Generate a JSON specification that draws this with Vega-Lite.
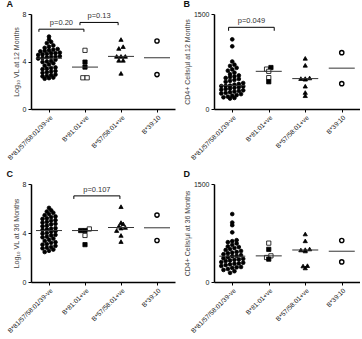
{
  "$schema": "https://vega.github.io/schema/vega-lite/v6.json",
  "padding": {"left": 6, "top": 0, "right": 0, "bottom": 0},
  "background": "white",
  "config": {
    "view": {"stroke": null},
    "font": "Liberation Sans",
    "concat": {"spacing": 8},
    "axis": {
      "grid": false,
      "domainColor": "#000",
      "domainWidth": 1.5,
      "tickColor": "#000",
      "tickWidth": 1,
      "tickSize": 3,
      "labelFont": "Liberation Sans",
      "labelFontSize": 7,
      "labelColor": "#222",
      "labelPadding": 2,
      "titleFont": "Liberation Sans",
      "titleFontSize": 7,
      "titleFontWeight": "normal",
      "titleColor": "#444",
      "titlePadding": 3
    },
    "axisX": {"values": [0, 1, 2, 3], "labelAngle": -45, "labelFontSize": 6.6, "labelOverlap": false, "labelBound": false,
              "labelExpr": "['B*81/57/58:01/39-ve','B*81:01+ve','B*57/58:01+ve','B*39:10'][datum.value]"},
    "title": {"font": "Liberation Sans", "fontSize": 9, "fontWeight": "bold", "anchor": "start", "frame": "bounds", "offset": 1, "color": "#111"}
  },
  "datasets": {
    "pts": [
      {"p":"A","g":0,"v":2.55},{"p":"A","g":0,"v":2.6},{"p":"A","g":0,"v":2.65},
      {"p":"A","g":0,"v":2.75},{"p":"A","g":0,"v":2.8},{"p":"A","g":0,"v":2.85},{"p":"A","g":0,"v":2.9},
      {"p":"A","g":0,"v":3.05},{"p":"A","g":0,"v":3.1},{"p":"A","g":0,"v":3.15},{"p":"A","g":0,"v":3.2},
      {"p":"A","g":0,"v":3.35},{"p":"A","g":0,"v":3.4},{"p":"A","g":0,"v":3.45},{"p":"A","g":0,"v":3.5},
      {"p":"A","g":0,"v":3.65},{"p":"A","g":0,"v":3.75},{"p":"A","g":0,"v":3.85},
      {"p":"A","g":0,"v":3.95},{"p":"A","g":0,"v":4.0},{"p":"A","g":0,"v":4.05},{"p":"A","g":0,"v":4.15},
      {"p":"A","g":0,"v":4.25},{"p":"A","g":0,"v":4.3},{"p":"A","g":0,"v":4.35},{"p":"A","g":0,"v":4.4},{"p":"A","g":0,"v":4.4},{"p":"A","g":0,"v":4.45},
      {"p":"A","g":0,"v":4.55},{"p":"A","g":0,"v":4.6},{"p":"A","g":0,"v":4.65},{"p":"A","g":0,"v":4.7},{"p":"A","g":0,"v":4.7},{"p":"A","g":0,"v":4.75},
      {"p":"A","g":0,"v":4.85},{"p":"A","g":0,"v":4.9},{"p":"A","g":0,"v":4.95},{"p":"A","g":0,"v":5.0},{"p":"A","g":0,"v":5.05},
      {"p":"A","g":0,"v":5.15},{"p":"A","g":0,"v":5.25},{"p":"A","g":0,"v":5.35},
      {"p":"A","g":0,"v":5.55},{"p":"A","g":0,"v":5.65},
      {"p":"A","g":0,"v":5.85},
      {"p":"A","g":0,"v":6.1},
      {"p":"A","g":1,"v":4.94,"s":"o"},{"p":"A","g":1,"v":3.95,"s":"f"},{"p":"A","g":1,"v":3.53,"s":"f"},{"p":"A","g":1,"v":2.63,"s":"o"},{"p":"A","g":1,"v":2.63,"s":"o"},
      {"p":"A","g":2,"v":5.85},{"p":"A","g":2,"v":5.25},{"p":"A","g":2,"v":5.1},{"p":"A","g":2,"v":4.43},{"p":"A","g":2,"v":4.43},{"p":"A","g":2,"v":4.43},{"p":"A","g":2,"v":4.1},{"p":"A","g":2,"v":4.1},{"p":"A","g":2,"v":3.0},
      {"p":"A","g":3,"v":5.73},{"p":"A","g":3,"v":2.9},

      {"p":"B","g":0,"v":165},{"p":"B","g":0,"v":175},
      {"p":"B","g":0,"v":185},{"p":"B","g":0,"v":195},{"p":"B","g":0,"v":210},{"p":"B","g":0,"v":220},{"p":"B","g":0,"v":235},
      {"p":"B","g":0,"v":245},{"p":"B","g":0,"v":255},{"p":"B","g":0,"v":265},{"p":"B","g":0,"v":275},{"p":"B","g":0,"v":285},{"p":"B","g":0,"v":295},
      {"p":"B","g":0,"v":305},{"p":"B","g":0,"v":315},{"p":"B","g":0,"v":325},{"p":"B","g":0,"v":335},{"p":"B","g":0,"v":345},{"p":"B","g":0,"v":355},
      {"p":"B","g":0,"v":362},{"p":"B","g":0,"v":365},{"p":"B","g":0,"v":370},{"p":"B","g":0,"v":385},{"p":"B","g":0,"v":395},{"p":"B","g":0,"v":410},
      {"p":"B","g":0,"v":430},{"p":"B","g":0,"v":445},{"p":"B","g":0,"v":460},{"p":"B","g":0,"v":475},
      {"p":"B","g":0,"v":490},{"p":"B","g":0,"v":505},{"p":"B","g":0,"v":515},{"p":"B","g":0,"v":530},
      {"p":"B","g":0,"v":550},{"p":"B","g":0,"v":575},
      {"p":"B","g":0,"v":605},{"p":"B","g":0,"v":625},{"p":"B","g":0,"v":650},
      {"p":"B","g":0,"v":680},{"p":"B","g":0,"v":700},
      {"p":"B","g":0,"v":750},
      {"p":"B","g":0,"v":990},
      {"p":"B","g":0,"v":1100},
      {"p":"B","g":1,"v":630,"s":"o"},{"p":"B","g":1,"v":655,"s":"f"},{"p":"B","g":1,"v":595,"s":"o"},{"p":"B","g":1,"v":495,"s":"o"},{"p":"B","g":1,"v":430,"s":"f"},
      {"p":"B","g":2,"v":800},{"p":"B","g":2,"v":690},{"p":"B","g":2,"v":490},{"p":"B","g":2,"v":480},{"p":"B","g":2,"v":480},{"p":"B","g":2,"v":470},{"p":"B","g":2,"v":360},{"p":"B","g":2,"v":260},{"p":"B","g":2,"v":210},
      {"p":"B","g":3,"v":890},{"p":"B","g":3,"v":400},

      {"p":"C","g":0,"v":2.45},{"p":"C","g":0,"v":2.55},{"p":"C","g":0,"v":2.65},
      {"p":"C","g":0,"v":2.75},{"p":"C","g":0,"v":2.8},{"p":"C","g":0,"v":2.85},{"p":"C","g":0,"v":2.95},
      {"p":"C","g":0,"v":3.05},{"p":"C","g":0,"v":3.1},{"p":"C","g":0,"v":3.2},{"p":"C","g":0,"v":3.25},
      {"p":"C","g":0,"v":3.35},{"p":"C","g":0,"v":3.45},{"p":"C","g":0,"v":3.55},
      {"p":"C","g":0,"v":3.65},{"p":"C","g":0,"v":3.7},{"p":"C","g":0,"v":3.8},{"p":"C","g":0,"v":3.85},
      {"p":"C","g":0,"v":3.95},{"p":"C","g":0,"v":4.0},{"p":"C","g":0,"v":4.1},{"p":"C","g":0,"v":4.15},
      {"p":"C","g":0,"v":4.25},{"p":"C","g":0,"v":4.3},{"p":"C","g":0,"v":4.35},{"p":"C","g":0,"v":4.4},
      {"p":"C","g":0,"v":4.55},{"p":"C","g":0,"v":4.6},{"p":"C","g":0,"v":4.7},{"p":"C","g":0,"v":4.75},
      {"p":"C","g":0,"v":4.85},{"p":"C","g":0,"v":4.9},{"p":"C","g":0,"v":5.0},{"p":"C","g":0,"v":5.05},
      {"p":"C","g":0,"v":5.15},{"p":"C","g":0,"v":5.2},{"p":"C","g":0,"v":5.3},{"p":"C","g":0,"v":5.35},
      {"p":"C","g":0,"v":5.45},{"p":"C","g":0,"v":5.55},{"p":"C","g":0,"v":5.65},
      {"p":"C","g":0,"v":5.75},{"p":"C","g":0,"v":5.85},
      {"p":"C","g":0,"v":6.05},
      {"p":"C","g":1,"v":4.2,"s":"f"},{"p":"C","g":1,"v":4.33,"s":"o"},{"p":"C","g":1,"v":4.2,"s":"f"},{"p":"C","g":1,"v":3.8,"s":"o"},{"p":"C","g":1,"v":3.05,"s":"f"},
      {"p":"C","g":2,"v":6.15},{"p":"C","g":2,"v":4.85},{"p":"C","g":2,"v":4.75},{"p":"C","g":2,"v":4.55},{"p":"C","g":2,"v":4.45},{"p":"C","g":2,"v":4.4},{"p":"C","g":2,"v":4.2},{"p":"C","g":2,"v":3.8},{"p":"C","g":2,"v":3.3},
      {"p":"C","g":3,"v":5.46},{"p":"C","g":3,"v":3.39},

      {"p":"D","g":0,"v":140},{"p":"D","g":0,"v":165},
      {"p":"D","g":0,"v":185},{"p":"D","g":0,"v":200},{"p":"D","g":0,"v":215},{"p":"D","g":0,"v":225},{"p":"D","g":0,"v":230},
      {"p":"D","g":0,"v":245},{"p":"D","g":0,"v":260},{"p":"D","g":0,"v":270},{"p":"D","g":0,"v":280},{"p":"D","g":0,"v":285},{"p":"D","g":0,"v":295},
      {"p":"D","g":0,"v":305},{"p":"D","g":0,"v":320},{"p":"D","g":0,"v":330},{"p":"D","g":0,"v":340},{"p":"D","g":0,"v":345},{"p":"D","g":0,"v":355},
      {"p":"D","g":0,"v":365},{"p":"D","g":0,"v":380},{"p":"D","g":0,"v":395},{"p":"D","g":0,"v":400},{"p":"D","g":0,"v":410},
      {"p":"D","g":0,"v":425},{"p":"D","g":0,"v":440},{"p":"D","g":0,"v":450},{"p":"D","g":0,"v":460},{"p":"D","g":0,"v":475},
      {"p":"D","g":0,"v":490},{"p":"D","g":0,"v":505},{"p":"D","g":0,"v":520},{"p":"D","g":0,"v":535},
      {"p":"D","g":0,"v":545},{"p":"D","g":0,"v":570},{"p":"D","g":0,"v":590},
      {"p":"D","g":0,"v":610},{"p":"D","g":0,"v":625},{"p":"D","g":0,"v":640},
      {"p":"D","g":0,"v":760},
      {"p":"D","g":0,"v":870},
      {"p":"D","g":0,"v":910},
      {"p":"D","g":0,"v":1040},
      {"p":"D","g":1,"v":595,"s":"o"},{"p":"D","g":1,"v":500,"s":"f"},{"p":"D","g":1,"v":400,"s":"o"},{"p":"D","g":1,"v":375,"s":"o"},{"p":"D","g":1,"v":350,"s":"f"},
      {"p":"D","g":2,"v":735},{"p":"D","g":2,"v":630},{"p":"D","g":2,"v":505},{"p":"D","g":2,"v":495},{"p":"D","g":2,"v":490},{"p":"D","g":2,"v":475},{"p":"D","g":2,"v":250},{"p":"D","g":2,"v":245},{"p":"D","g":2,"v":215},
      {"p":"D","g":3,"v":635},{"p":"D","g":3,"v":307}
    ],
    "brackets": [
      {"p":"A","from":-0.28,"to":0.97,"y":6.72,"drop":6.5,"label":"p=0.20"},
      {"p":"A","from":0.86,"to":1.92,"y":7.29,"drop":7.06,"label":"p=0.13"},
      {"p":"B","from":-0.1,"to":1.15,"y":1290,"drop":1235,"label":"p=0.049"},
      {"p":"C","from":0.69,"to":1.97,"y":7.03,"drop":6.78,"label":"p=0.107"}
    ]
  },
  "vconcat": [
    {
      "hconcat": [
        {
          "title": "A",
          "width": 144, "height": 95,
          "layer": [
            {
              "data": {"name": "pts"},
              "transform": [
                {"filter": "datum.p == 'A'"},
                {"calculate": "floor(datum.v / 0.3)", "as": "bin"},
                {"window": [{"op": "row_number", "as": "rk"}, {"op": "count", "as": "n"}], "groupby": ["g", "bin"], "sort": [{"field": "v"}], "frame": [null, null]},
                {"calculate": "datum.g + (datum.rk - (datum.n + 1) / 2) * 0.12", "as": "xpos"}
              ],
              "mark": {"type": "point", "opacity": 1, "stroke": "#000"},
              "encoding": {
                "x": {"field": "xpos", "type": "quantitative", "title": null, "scale": {"domain": [-0.5, 3.5], "nice": false, "zero": false}},
                "y": {"field": "v", "type": "quantitative", "title": "Log₁₀ VL at 12 Months", "scale": {"domain": [0, 8], "nice": false}, "axis": {"values": [0, 2, 4, 6, 8]}},
                "shape": {"field": "g", "type": "nominal", "scale": {"domain": [0, 1, 2, 3], "range": ["circle", "square", "triangle-up", "circle"]}, "legend": null},
                "fill": {"condition": {"test": "datum.g == 3 || datum.s == 'o'", "value": "#fff"}, "value": "#000"},
                "strokeWidth": {"condition": {"test": "datum.g == 3", "value": 1.4}, "value": 0.8},
                "size": {"condition": {"test": "datum.g == 0", "value": 14}, "value": 18}
              }
            },
            {
              "data": {"name": "pts"},
              "transform": [{"filter": "datum.p == 'A'"}],
              "mark": {"type": "tick", "orient": "horizontal", "size": 26, "thickness": 1, "color": "#333"},
              "encoding": {
                "x": {"field": "g", "type": "quantitative", "title": null},
                "y": {"aggregate": "median", "field": "v", "type": "quantitative", "title": "Log₁₀ VL at 12 Months"}
              }
            },
            {
              "data": {"name": "brackets"},
              "transform": [{"filter": "datum.p == 'A'"}],
              "mark": {"type": "rule", "color": "#000", "strokeWidth": 1},
              "encoding": {"x": {"field": "from", "type": "quantitative", "title": null}, "x2": {"field": "to"}, "y": {"field": "y", "type": "quantitative", "title": "Log₁₀ VL at 12 Months"}}
            },
            {
              "data": {"name": "brackets"},
              "transform": [{"filter": "datum.p == 'A'"}],
              "mark": {"type": "rule", "color": "#000", "strokeWidth": 1},
              "encoding": {"x": {"field": "from", "type": "quantitative", "title": null}, "y": {"field": "y", "type": "quantitative", "title": "Log₁₀ VL at 12 Months"}, "y2": {"field": "drop"}}
            },
            {
              "data": {"name": "brackets"},
              "transform": [{"filter": "datum.p == 'A'"}],
              "mark": {"type": "rule", "color": "#000", "strokeWidth": 1},
              "encoding": {"x": {"field": "to", "type": "quantitative", "title": null}, "y": {"field": "y", "type": "quantitative", "title": "Log₁₀ VL at 12 Months"}, "y2": {"field": "drop"}}
            },
            {
              "data": {"name": "brackets"},
              "transform": [{"filter": "datum.p == 'A'"}, {"calculate": "(datum.from + datum.to) / 2", "as": "mid"}],
              "mark": {"type": "text", "fontSize": 7.5, "color": "#333", "baseline": "bottom", "dy": -2},
              "encoding": {"x": {"field": "mid", "type": "quantitative", "title": null}, "y": {"field": "y", "type": "quantitative", "title": "Log₁₀ VL at 12 Months"}, "text": {"field": "label"}}
            }
          ]
        },
        {
          "title": "B",
          "width": 146, "height": 95,
          "layer": [
            {
              "data": {"name": "pts"},
              "transform": [
                {"filter": "datum.p == 'B'"},
                {"calculate": "floor(datum.v / 60)", "as": "bin"},
                {"window": [{"op": "row_number", "as": "rk"}, {"op": "count", "as": "n"}], "groupby": ["g", "bin"], "sort": [{"field": "v"}], "frame": [null, null]},
                {"calculate": "datum.g + (datum.rk - (datum.n + 1) / 2) * 0.12", "as": "xpos"}
              ],
              "mark": {"type": "point", "opacity": 1, "stroke": "#000"},
              "encoding": {
                "x": {"field": "xpos", "type": "quantitative", "title": null, "scale": {"domain": [-0.5, 3.5], "nice": false, "zero": false}},
                "y": {"field": "v", "type": "quantitative", "title": "CD4+ Cells/µl at 12 Months", "scale": {"domain": [0, 1500], "nice": false}, "axis": {"values": [0, 500, 1000, 1500], "format": "d"}},
                "shape": {"field": "g", "type": "nominal", "scale": {"domain": [0, 1, 2, 3], "range": ["circle", "square", "triangle-up", "circle"]}, "legend": null},
                "fill": {"condition": {"test": "datum.g == 3 || datum.s == 'o'", "value": "#fff"}, "value": "#000"},
                "strokeWidth": {"condition": {"test": "datum.g == 3", "value": 1.4}, "value": 0.8},
                "size": {"condition": {"test": "datum.g == 0", "value": 14}, "value": 18}
              }
            },
            {
              "data": {"name": "pts"},
              "transform": [{"filter": "datum.p == 'B'"}],
              "mark": {"type": "tick", "orient": "horizontal", "size": 26, "thickness": 1, "color": "#333"},
              "encoding": {
                "x": {"field": "g", "type": "quantitative", "title": null},
                "y": {"aggregate": "median", "field": "v", "type": "quantitative", "title": "CD4+ Cells/µl at 12 Months"}
              }
            },
            {
              "data": {"name": "brackets"},
              "transform": [{"filter": "datum.p == 'B'"}],
              "mark": {"type": "rule", "color": "#000", "strokeWidth": 1},
              "encoding": {"x": {"field": "from", "type": "quantitative", "title": null}, "x2": {"field": "to"}, "y": {"field": "y", "type": "quantitative", "title": "CD4+ Cells/µl at 12 Months"}}
            },
            {
              "data": {"name": "brackets"},
              "transform": [{"filter": "datum.p == 'B'"}],
              "mark": {"type": "rule", "color": "#000", "strokeWidth": 1},
              "encoding": {"x": {"field": "from", "type": "quantitative", "title": null}, "y": {"field": "y", "type": "quantitative", "title": "CD4+ Cells/µl at 12 Months"}, "y2": {"field": "drop"}}
            },
            {
              "data": {"name": "brackets"},
              "transform": [{"filter": "datum.p == 'B'"}],
              "mark": {"type": "rule", "color": "#000", "strokeWidth": 1},
              "encoding": {"x": {"field": "to", "type": "quantitative", "title": null}, "y": {"field": "y", "type": "quantitative", "title": "CD4+ Cells/µl at 12 Months"}, "y2": {"field": "drop"}}
            },
            {
              "data": {"name": "brackets"},
              "transform": [{"filter": "datum.p == 'B'"}, {"calculate": "(datum.from + datum.to) / 2", "as": "mid"}],
              "mark": {"type": "text", "fontSize": 7.5, "color": "#333", "baseline": "bottom", "dy": -2},
              "encoding": {"x": {"field": "mid", "type": "quantitative", "title": null}, "y": {"field": "y", "type": "quantitative", "title": "CD4+ Cells/µl at 12 Months"}, "text": {"field": "label"}}
            }
          ]
        }
      ]
    },
    {
      "hconcat": [
        {
          "title": "C",
          "width": 144, "height": 98,
          "layer": [
            {
              "data": {"name": "pts"},
              "transform": [
                {"filter": "datum.p == 'C'"},
                {"calculate": "floor(datum.v / 0.3)", "as": "bin"},
                {"window": [{"op": "row_number", "as": "rk"}, {"op": "count", "as": "n"}], "groupby": ["g", "bin"], "sort": [{"field": "v"}], "frame": [null, null]},
                {"calculate": "datum.g + (datum.rk - (datum.n + 1) / 2) * 0.12", "as": "xpos"}
              ],
              "mark": {"type": "point", "opacity": 1, "stroke": "#000"},
              "encoding": {
                "x": {"field": "xpos", "type": "quantitative", "title": null, "scale": {"domain": [-0.5, 3.5], "nice": false, "zero": false}},
                "y": {"field": "v", "type": "quantitative", "title": "Log₁₀ VL at 36 Months", "scale": {"domain": [0, 8], "nice": false}, "axis": {"values": [0, 2, 4, 6, 8]}},
                "shape": {"field": "g", "type": "nominal", "scale": {"domain": [0, 1, 2, 3], "range": ["circle", "square", "triangle-up", "circle"]}, "legend": null},
                "fill": {"condition": {"test": "datum.g == 3 || datum.s == 'o'", "value": "#fff"}, "value": "#000"},
                "strokeWidth": {"condition": {"test": "datum.g == 3", "value": 1.4}, "value": 0.8},
                "size": {"condition": {"test": "datum.g == 0", "value": 14}, "value": 18}
              }
            },
            {
              "data": {"name": "pts"},
              "transform": [{"filter": "datum.p == 'C'"}],
              "mark": {"type": "tick", "orient": "horizontal", "size": 26, "thickness": 1, "color": "#333"},
              "encoding": {
                "x": {"field": "g", "type": "quantitative", "title": null},
                "y": {"aggregate": "median", "field": "v", "type": "quantitative", "title": "Log₁₀ VL at 36 Months"}
              }
            },
            {
              "data": {"name": "brackets"},
              "transform": [{"filter": "datum.p == 'C'"}],
              "mark": {"type": "rule", "color": "#000", "strokeWidth": 1},
              "encoding": {"x": {"field": "from", "type": "quantitative", "title": null}, "x2": {"field": "to"}, "y": {"field": "y", "type": "quantitative", "title": "Log₁₀ VL at 36 Months"}}
            },
            {
              "data": {"name": "brackets"},
              "transform": [{"filter": "datum.p == 'C'"}],
              "mark": {"type": "rule", "color": "#000", "strokeWidth": 1},
              "encoding": {"x": {"field": "from", "type": "quantitative", "title": null}, "y": {"field": "y", "type": "quantitative", "title": "Log₁₀ VL at 36 Months"}, "y2": {"field": "drop"}}
            },
            {
              "data": {"name": "brackets"},
              "transform": [{"filter": "datum.p == 'C'"}],
              "mark": {"type": "rule", "color": "#000", "strokeWidth": 1},
              "encoding": {"x": {"field": "to", "type": "quantitative", "title": null}, "y": {"field": "y", "type": "quantitative", "title": "Log₁₀ VL at 36 Months"}, "y2": {"field": "drop"}}
            },
            {
              "data": {"name": "brackets"},
              "transform": [{"filter": "datum.p == 'C'"}, {"calculate": "(datum.from + datum.to) / 2", "as": "mid"}],
              "mark": {"type": "text", "fontSize": 7.5, "color": "#333", "baseline": "bottom", "dy": -2},
              "encoding": {"x": {"field": "mid", "type": "quantitative", "title": null}, "y": {"field": "y", "type": "quantitative", "title": "Log₁₀ VL at 36 Months"}, "text": {"field": "label"}}
            }
          ]
        },
        {
          "title": "D",
          "width": 146, "height": 98,
          "layer": [
            {
              "data": {"name": "pts"},
              "transform": [
                {"filter": "datum.p == 'D'"},
                {"calculate": "floor(datum.v / 60)", "as": "bin"},
                {"window": [{"op": "row_number", "as": "rk"}, {"op": "count", "as": "n"}], "groupby": ["g", "bin"], "sort": [{"field": "v"}], "frame": [null, null]},
                {"calculate": "datum.g + (datum.rk - (datum.n + 1) / 2) * 0.12", "as": "xpos"}
              ],
              "mark": {"type": "point", "opacity": 1, "stroke": "#000"},
              "encoding": {
                "x": {"field": "xpos", "type": "quantitative", "title": null, "scale": {"domain": [-0.5, 3.5], "nice": false, "zero": false}},
                "y": {"field": "v", "type": "quantitative", "title": "CD4+ Cells/µl at 36 Months", "scale": {"domain": [0, 1500], "nice": false}, "axis": {"values": [0, 500, 1000, 1500], "format": "d"}},
                "shape": {"field": "g", "type": "nominal", "scale": {"domain": [0, 1, 2, 3], "range": ["circle", "square", "triangle-up", "circle"]}, "legend": null},
                "fill": {"condition": {"test": "datum.g == 3 || datum.s == 'o'", "value": "#fff"}, "value": "#000"},
                "strokeWidth": {"condition": {"test": "datum.g == 3", "value": 1.4}, "value": 0.8},
                "size": {"condition": {"test": "datum.g == 0", "value": 14}, "value": 18}
              }
            },
            {
              "data": {"name": "pts"},
              "transform": [{"filter": "datum.p == 'D'"}],
              "mark": {"type": "tick", "orient": "horizontal", "size": 26, "thickness": 1, "color": "#333"},
              "encoding": {
                "x": {"field": "g", "type": "quantitative", "title": null},
                "y": {"aggregate": "median", "field": "v", "type": "quantitative", "title": "CD4+ Cells/µl at 36 Months"}
              }
            }
          ]
        }
      ]
    }
  ]
}
